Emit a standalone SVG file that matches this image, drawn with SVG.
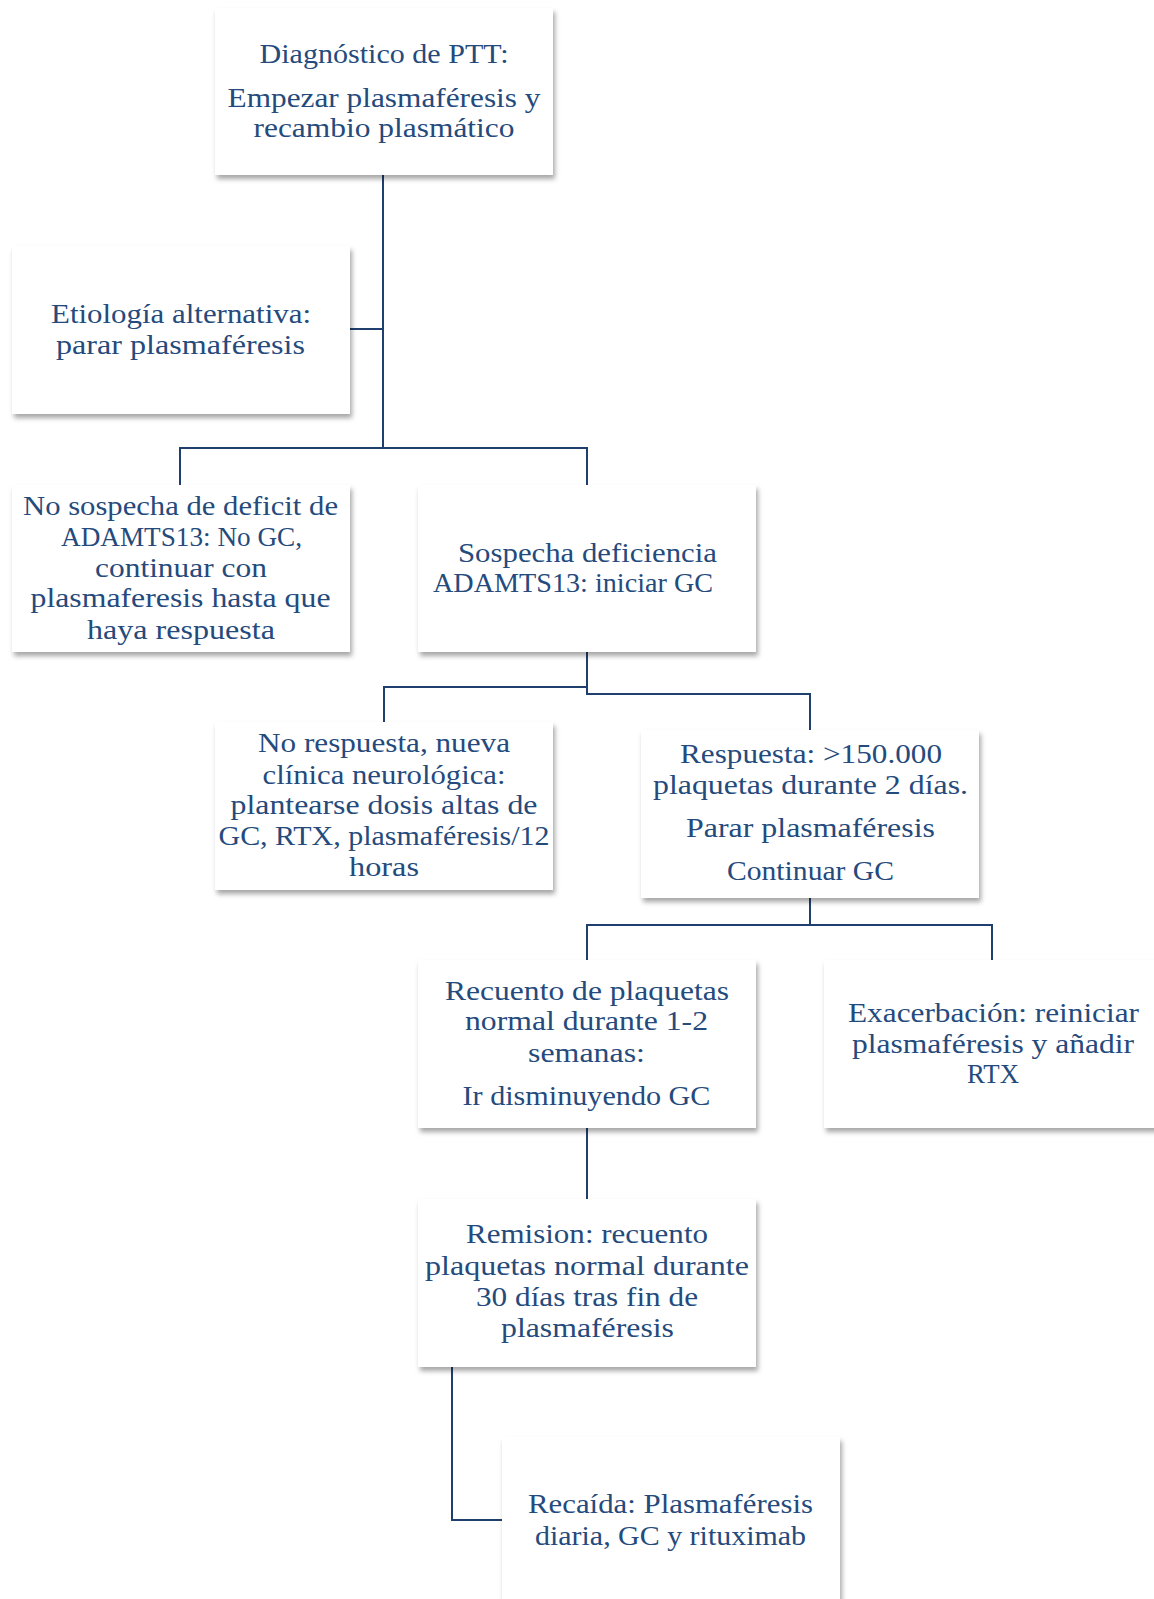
<svg xmlns="http://www.w3.org/2000/svg" width="1154" height="1599" viewBox="0 0 1154 1599">
<style>
.box{fill:#ffffff;filter:url(#sh);}
.t{font-family:"Liberation Serif","DejaVu Serif",serif;font-size:27px;fill:#254a7c;text-anchor:middle;}
.c{fill:none;stroke:#1f3f6e;stroke-width:2;}
</style>
<defs>
<filter id="sh" x="-10%" y="-10%" width="125%" height="130%">
<feDropShadow dx="2" dy="4" stdDeviation="2.5" flood-color="#000" flood-opacity="0.35"/>
</filter>
</defs>
<rect width="1154" height="1599" fill="#ffffff"/>
<g id="connectors">
<path class="c" d="M383,175 V448 M180,485 V448 H587 V485 M349,329 H383"/>
<path class="c" d="M587,652 V694 H810 V730 M587,687 H384 V722"/>
<path class="c" d="M810,898 V925 M587,960 V925 H992 V960"/>
<path class="c" d="M587,1128 V1199"/>
<path class="c" d="M452,1367 V1520 H502"/>
</g>
<g id="n1"><rect class="box" x="215" y="8" width="338" height="167"/>
<text class="t" x="384" y="63" textLength="249" lengthAdjust="spacingAndGlyphs">Diagnóstico de PTT:</text>
<text class="t" x="384" y="107" textLength="313" lengthAdjust="spacingAndGlyphs">Empezar plasmaféresis y</text>
<text class="t" x="384" y="137" textLength="261" lengthAdjust="spacingAndGlyphs">recambio plasmático</text></g>
<g id="n2"><rect class="box" x="12" y="246" width="338" height="168"/>
<text class="t" x="181" y="323" textLength="260" lengthAdjust="spacingAndGlyphs">Etiología alternativa:</text>
<text class="t" x="180.5" y="354" textLength="249" lengthAdjust="spacingAndGlyphs">parar plasmaféresis</text></g>
<g id="n3"><rect class="box" x="12" y="485" width="338" height="167"/>
<text class="t" x="180.5" y="515" textLength="315" lengthAdjust="spacingAndGlyphs">No sospecha de deficit de</text>
<text class="t" x="181.5" y="546" textLength="241" lengthAdjust="spacingAndGlyphs">ADAMTS13: No GC,</text>
<text class="t" x="181" y="577" textLength="172" lengthAdjust="spacingAndGlyphs">continuar con</text>
<text class="t" x="180.5" y="607" textLength="300" lengthAdjust="spacingAndGlyphs">plasmaferesis hasta que</text>
<text class="t" x="181" y="639" textLength="188" lengthAdjust="spacingAndGlyphs">haya respuesta</text></g>
<g id="n4"><rect class="box" x="418" y="485" width="338" height="167"/>
<text class="t" x="587.5" y="562" textLength="259" lengthAdjust="spacingAndGlyphs">Sospecha deficiencia</text>
<text class="t" x="573" y="592" textLength="280" lengthAdjust="spacingAndGlyphs">ADAMTS13: iniciar GC</text></g>
<g id="n5"><rect class="box" x="215" y="722" width="338" height="168"/>
<text class="t" x="384" y="752" textLength="252" lengthAdjust="spacingAndGlyphs">No respuesta, nueva</text>
<text class="t" x="384" y="784" textLength="243" lengthAdjust="spacingAndGlyphs">clínica neurológica:</text>
<text class="t" x="384" y="814" textLength="307" lengthAdjust="spacingAndGlyphs">plantearse dosis altas de</text>
<text class="t" x="384" y="845" textLength="331" lengthAdjust="spacingAndGlyphs">GC, RTX, plasmaféresis/12</text>
<text class="t" x="384" y="876" textLength="70" lengthAdjust="spacingAndGlyphs">horas</text></g>
<g id="n6"><rect class="box" x="641" y="730" width="338" height="168"/>
<text class="t" x="811" y="763" textLength="262" lengthAdjust="spacingAndGlyphs">Respuesta: &gt;150.000</text>
<text class="t" x="810.5" y="794" textLength="315" lengthAdjust="spacingAndGlyphs">plaquetas durante 2 días.</text>
<text class="t" x="810.5" y="837" textLength="249" lengthAdjust="spacingAndGlyphs">Parar plasmaféresis</text>
<text class="t" x="810.5" y="880" textLength="167" lengthAdjust="spacingAndGlyphs">Continuar GC</text></g>
<g id="n7"><rect class="box" x="418" y="960" width="338" height="168"/>
<text class="t" x="587" y="1000" textLength="284" lengthAdjust="spacingAndGlyphs">Recuento de plaquetas</text>
<text class="t" x="586.5" y="1030" textLength="243" lengthAdjust="spacingAndGlyphs">normal durante 1-2</text>
<text class="t" x="586.5" y="1062" textLength="117" lengthAdjust="spacingAndGlyphs">semanas:</text>
<text class="t" x="586.5" y="1105" textLength="248" lengthAdjust="spacingAndGlyphs">Ir disminuyendo GC</text></g>
<g id="n8"><rect class="box" x="824" y="960" width="345" height="168"/>
<text class="t" x="993.5" y="1022" textLength="291" lengthAdjust="spacingAndGlyphs">Exacerbación: reiniciar</text>
<text class="t" x="993" y="1053" textLength="282" lengthAdjust="spacingAndGlyphs">plasmaféresis y añadir</text>
<text class="t" x="993" y="1083" textLength="52" lengthAdjust="spacingAndGlyphs">RTX</text></g>
<g id="n9"><rect class="box" x="418" y="1199" width="338" height="168"/>
<text class="t" x="587" y="1243" textLength="242" lengthAdjust="spacingAndGlyphs">Remision: recuento</text>
<text class="t" x="587" y="1275" textLength="324" lengthAdjust="spacingAndGlyphs">plaquetas normal durante</text>
<text class="t" x="587" y="1306" textLength="222" lengthAdjust="spacingAndGlyphs">30 días tras fin de</text>
<text class="t" x="587.5" y="1337" textLength="173" lengthAdjust="spacingAndGlyphs">plasmaféresis</text></g>
<g id="n10"><rect class="box" x="502" y="1437" width="338" height="200"/>
<text class="t" x="670.5" y="1513" textLength="285" lengthAdjust="spacingAndGlyphs">Recaída: Plasmaféresis</text>
<text class="t" x="670.5" y="1545" textLength="271" lengthAdjust="spacingAndGlyphs">diaria, GC y rituximab</text></g>
</svg>
